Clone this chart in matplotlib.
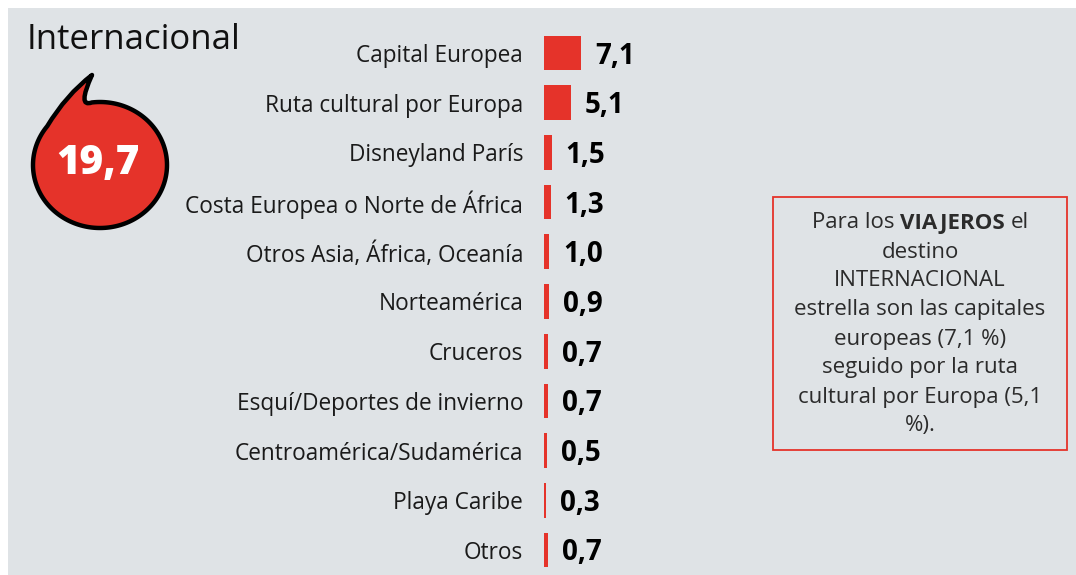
import matplotlib
matplotlib.use("Agg")
import matplotlib.pyplot as plt
from matplotlib.patches import Rectangle, PathPatch
from matplotlib.path import Path
import numpy as np

categories = ["Capital Europea", "Ruta cultural por Europa", "Disneyland París",
              "Costa Europea o Norte de África", "Otros Asia, África, Oceanía",
              "Norteamérica", "Cruceros", "Esquí/Deportes de invierno",
              "Centroamérica/Sudamérica", "Playa Caribe", "Otros"]
values = [7.1, 5.1, 1.5, 1.3, 1.0, 0.9, 0.7, 0.7, 0.5, 0.3, 0.7]
total_label = "19,7"
title = "Internacional"
note_first = ["Para los", "VIAJEROS", "el"]
note_lines = ["destino", "INTERNACIONAL", "estrella son las capitales",
              "europeas (7,1 %)", "seguido por la ruta",
              "cultural por Europa (5,1", "%)."]

W, H = 1076, 575
BG = "#DFE3E6"
RED = "#E5332A"
FONT = "Open Sans"

fig = plt.figure(figsize=(W / 100, H / 100), dpi=100, facecolor="white")

bgax = fig.add_axes([0, 0, 1, 1], zorder=0)
bgax.set_xlim(0, W)
bgax.set_ylim(H, 0)
bgax.axis("off")
bgax.add_patch(Rectangle((8, 8), W - 8, H - 8, facecolor=BG, edgecolor="none"))

# bars axes
row0, step = 53.0, 49.7
n = len(categories)
top_px = row0 - step / 2
bot_px = row0 + step * (n - 1) + step / 2
left_px = 544
px_per_unit = 5.2
ax_w_px = 500
ax = fig.add_axes([left_px / W, (H - bot_px) / H, ax_w_px / W, (bot_px - top_px) / H], zorder=2)
ax.set_facecolor("none")
ypos = np.arange(n)
ax.barh(ypos, values, height=0.7, color=RED, edgecolor="none")
ax.set_xlim(0, ax_w_px / px_per_unit)
ax.set_ylim(n - 0.5, -0.5)
ax.set_yticks(ypos)
ax.set_yticklabels(categories, fontsize=16.3, fontfamily=FONT, color="#1a1a1a")
ax.tick_params(axis="y", length=0, pad=15)
ax.set_xticks([])
for s in ax.spines.values():
    s.set_visible(False)
for y, v in zip(ypos, values):
    ax.annotate(f"{v:.1f}".replace(".", ","), xy=(v, y), xytext=(14, -3),
                textcoords="offset pixels", ha="left", va="center",
                fontsize=20, fontweight="bold", fontfamily=FONT, color="black")

# title
bgax.text(27, 40, title, fontsize=25, fontfamily=FONT, color="#111111",
          ha="left", va="center")

# speech bubble
cx, cy, rx, ry = 100, 165, 67, 63
th = np.radians(np.linspace(-97, 218, 240))
arc = np.column_stack([cx + rx * np.cos(th), cy + ry * np.sin(th)])
verts = list(map(tuple, arc))
codes = [Path.MOVETO] + [Path.LINETO] * (len(verts) - 1)
verts += [(66, 95), (92, 75), (77, 108), verts[0], verts[0]]
codes += [Path.CURVE3, Path.CURVE3, Path.CURVE3, Path.CURVE3, Path.CLOSEPOLY]
bgax.add_patch(PathPatch(Path(verts, codes), facecolor=RED, edgecolor="black",
                         lw=3.2, joinstyle="round", zorder=3))
bgax.text(98, 164, total_label, fontsize=29, fontweight="heavy", fontfamily=FONT,
          color="white", ha="center", va="center", zorder=4)

# note box
bgax.add_patch(Rectangle((773, 197), 294, 253, facecolor="none", edgecolor=RED, lw=1.3, zorder=3))
tcol = "#2b2b2b"
fs = 16
cxn = 920
fig.canvas.draw()
rend = fig.canvas.get_renderer()
weights = ["normal", "bold", "normal"]
tmp = [bgax.text(0, 223, s, fontsize=fs, fontweight=w, fontfamily=FONT, color=tcol,
                 ha="left", va="center") for s, w in zip(note_first, weights)]
sp = bgax.text(0, 0, "a a", fontsize=fs, fontfamily=FONT)
sp2 = bgax.text(0, 0, "aa", fontsize=fs, fontfamily=FONT)
spw = sp.get_window_extent(renderer=rend).width - sp2.get_window_extent(renderer=rend).width
sp.remove(); sp2.remove()
w0 = [t.get_window_extent(renderer=rend).width for t in tmp]
total = sum(w0) + 2 * spw
x = cxn - total / 2
for i, t in enumerate(tmp):
    t.set_x(x)
    x += w0[i] + spw
for i, line in enumerate(note_lines):
    bgax.text(cxn, 252 + 29 * i, line, fontsize=fs, fontfamily=FONT, color=tcol,
              ha="center", va="center")

fig.savefig("out.png", dpi=100, facecolor="white")
